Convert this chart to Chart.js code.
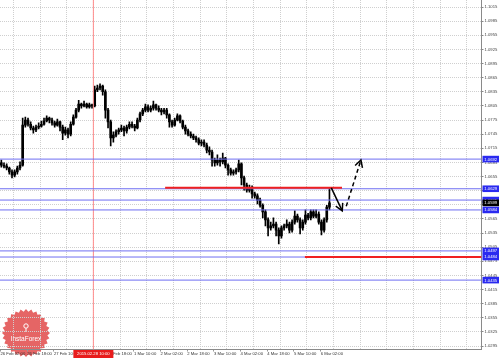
<!DOCTYPE html>
<html><head><meta charset="utf-8">
<script src="https://cdn.jsdelivr.net/npm/chart.js@4.4.0/dist/chart.umd.min.js"></script>
<style>html,body{margin:0;padding:0;background:#fff;}canvas{display:block;}</style>
</head><body>
<canvas id="c" width="499" height="359"></canvas>
<script>
// ---- data ----
const OPEN = [1.0684,1.0679,1.0677,1.0673,1.0665,1.0658,1.0665,1.0673,1.0679,1.0764,1.0775,1.0766,1.0758,1.0754,1.0760,1.0762,1.0766,1.0773,1.0779,1.0775,1.0769,1.0764,1.0771,1.0760,1.0747,1.0754,1.0745,1.0766,1.0781,1.0796,1.0809,1.0805,1.0809,1.0803,1.0807,1.0805,1.0839,1.0843,1.0847,1.0835,1.0796,1.0771,1.0737,1.0743,1.0750,1.0754,1.0758,1.0752,1.0760,1.0766,1.0762,1.0758,1.0775,1.0788,1.0796,1.0803,1.0796,1.0800,1.0807,1.0800,1.0796,1.0792,1.0796,1.0786,1.0771,1.0764,1.0775,1.0784,1.0773,1.0760,1.0752,1.0745,1.0741,1.0737,1.0733,1.0726,1.0728,1.0722,1.0711,1.0707,1.0690,1.0684,1.0690,1.0686,1.0694,1.0679,1.0669,1.0662,1.0665,1.0669,1.0682,1.0652,1.0637,1.0626,1.0631,1.0618,1.0614,1.0605,1.0594,1.0580,1.0563,1.0546,1.0550,1.0554,1.0541,1.0529,1.0546,1.0550,1.0554,1.0541,1.0558,1.0571,1.0563,1.0546,1.0558,1.0573,1.0567,1.0580,1.0571,1.0575,1.0558,1.0541,1.0563,1.0590];
const HIGH = [1.0690,1.0684,1.0682,1.0675,1.0669,1.0669,1.0677,1.0686,1.0779,1.0781,1.0779,1.0771,1.0762,1.0764,1.0769,1.0773,1.0779,1.0784,1.0781,1.0779,1.0773,1.0777,1.0773,1.0764,1.0760,1.0758,1.0771,1.0786,1.0800,1.0817,1.0811,1.0815,1.0811,1.0811,1.0809,1.0847,1.0849,1.0852,1.0849,1.0839,1.0800,1.0775,1.0750,1.0754,1.0758,1.0764,1.0762,1.0764,1.0771,1.0771,1.0766,1.0779,1.0792,1.0800,1.0809,1.0807,1.0805,1.0815,1.0809,1.0805,1.0800,1.0800,1.0800,1.0788,1.0775,1.0779,1.0788,1.0786,1.0775,1.0764,1.0756,1.0750,1.0745,1.0741,1.0737,1.0733,1.0733,1.0726,1.0718,1.0711,1.0694,1.0701,1.0694,1.0705,1.0696,1.0682,1.0673,1.0669,1.0673,1.0690,1.0684,1.0656,1.0641,1.0637,1.0635,1.0622,1.0618,1.0609,1.0597,1.0584,1.0567,1.0558,1.0567,1.0558,1.0546,1.0550,1.0554,1.0563,1.0558,1.0563,1.0582,1.0575,1.0567,1.0563,1.0584,1.0577,1.0584,1.0584,1.0584,1.0580,1.0563,1.0567,1.0594,1.0631];
const LOW = [1.0675,1.0673,1.0669,1.0660,1.0652,1.0654,1.0660,1.0669,1.0677,1.0760,1.0762,1.0754,1.0747,1.0750,1.0756,1.0760,1.0764,1.0771,1.0769,1.0764,1.0760,1.0762,1.0752,1.0733,1.0743,1.0737,1.0741,1.0764,1.0779,1.0792,1.0800,1.0803,1.0800,1.0800,1.0800,1.0803,1.0835,1.0839,1.0828,1.0779,1.0758,1.0720,1.0728,1.0739,1.0745,1.0750,1.0741,1.0747,1.0756,1.0758,1.0752,1.0756,1.0771,1.0784,1.0792,1.0792,1.0792,1.0796,1.0796,1.0792,1.0786,1.0788,1.0779,1.0760,1.0760,1.0762,1.0773,1.0769,1.0756,1.0745,1.0741,1.0737,1.0733,1.0728,1.0722,1.0720,1.0718,1.0705,1.0701,1.0677,1.0677,1.0679,1.0677,1.0682,1.0673,1.0658,1.0658,1.0658,1.0660,1.0665,1.0637,1.0626,1.0622,1.0622,1.0609,1.0609,1.0597,1.0590,1.0567,1.0550,1.0529,1.0541,1.0546,1.0529,1.0512,1.0524,1.0541,1.0546,1.0535,1.0537,1.0554,1.0558,1.0533,1.0541,1.0554,1.0563,1.0563,1.0567,1.0567,1.0554,1.0531,1.0537,1.0558,1.0584];
const CLOSE = [1.0679,1.0677,1.0673,1.0665,1.0658,1.0665,1.0673,1.0679,1.0764,1.0775,1.0766,1.0758,1.0754,1.0760,1.0762,1.0766,1.0773,1.0779,1.0775,1.0769,1.0764,1.0771,1.0760,1.0747,1.0754,1.0745,1.0766,1.0781,1.0796,1.0809,1.0805,1.0809,1.0803,1.0807,1.0805,1.0839,1.0843,1.0847,1.0835,1.0796,1.0771,1.0737,1.0743,1.0750,1.0754,1.0758,1.0752,1.0760,1.0766,1.0762,1.0758,1.0775,1.0788,1.0796,1.0803,1.0796,1.0800,1.0807,1.0800,1.0796,1.0792,1.0796,1.0786,1.0771,1.0764,1.0775,1.0784,1.0773,1.0760,1.0752,1.0745,1.0741,1.0737,1.0733,1.0726,1.0728,1.0722,1.0711,1.0707,1.0690,1.0684,1.0690,1.0686,1.0694,1.0679,1.0669,1.0662,1.0665,1.0669,1.0682,1.0652,1.0637,1.0626,1.0631,1.0618,1.0614,1.0605,1.0594,1.0580,1.0563,1.0546,1.0550,1.0554,1.0541,1.0529,1.0546,1.0550,1.0554,1.0541,1.0558,1.0571,1.0563,1.0546,1.0558,1.0573,1.0567,1.0580,1.0571,1.0575,1.0558,1.0541,1.0563,1.0590,1.0599];

const Y_TICKS = [1.1015,1.0985,1.0955,1.0925,1.0895,1.0865,1.0835,1.0805,1.0775,1.0745,1.0715,1.0685,1.0655,1.0625,1.0595,1.0565,1.0535,1.0505,1.0475,1.0445,1.0415,1.0385,1.0355,1.0325,1.0295];
const X_LABELS = ["26 Feb 02:00","26 Feb 18:00","27 Feb 10:00","28 Feb 02:00","28 Feb 18:00","1 Mar 10:00","2 Mar 02:00","2 Mar 18:00","3 Mar 10:00","4 Mar 02:00","4 Mar 18:00","5 Mar 10:00","6 Mar 02:00"];
const X_LABEL_BARS = [-0.3,9.7,19.7,29.7,39.7,49.7,59.7,69.7,79.7,89.7,99.7,109.7,119.7];
const X_GRID_BARS = [4.5,14.5,24.5,34.5,44.5,54.5,64.5,74.5,84.5,94.5,104.5,114.5,124.5,134.5,144.5,154.5,164.5,174.5];

const BLUE_LEVELS = [1.0692,1.0629,1.0605,1.0584,1.0497,1.0484,1.0435];
const RED_LEVELS = [1.0631,1.0484];
const RED_FROM = [61.4,113.8];
const RED_TO = [127.7,180];
const CURRENT_PRICE = 1.0599;
const VLINE_BAR = 34.5;
const VLINE_LABEL = "2015.02.28 10:00";
const ARROW_DOWN_X = [123.7,127.8], ARROW_DOWN_Y = [1.0631,1.0582];
const ARROW_UP_X = [129.3,134.8], ARROW_UP_Y = [1.0592,1.0690];

const X_MIN = -0.5, X_MAX = 180;
const Y_MIN = 1.02876, Y_MAX = 1.10299;

// ---- datasets ----
const idx = OPEN.map((_, i) => i);
const datasets = [];
datasets.push({type:'bar', data: idx.map(i => ({x:i, y:[LOW[i], HIGH[i]]})), backgroundColor:'#000', barThickness:1, grouped:false, order:20});
datasets.push({type:'bar', data: idx.map(i => ({x:i, y:[OPEN[i], CLOSE[i]]})), backgroundColor:'#000', barThickness:2, grouped:false, order:19});
BLUE_LEVELS.forEach(v => datasets.push({type:'line', data:[{x:X_MIN,y:v},{x:X_MAX,y:v}], borderColor:'#6e6ef2', borderWidth:1, pointRadius:0, order:6}));
RED_LEVELS.forEach((v,k) => datasets.push({type:'line', data:[{x:RED_FROM[k],y:v},{x:RED_TO[k],y:v}], borderColor:'#f02020', borderWidth:2, pointRadius:0, order:4}));
datasets.push({type:'line', data:[{x:VLINE_BAR,y:Y_MIN},{x:VLINE_BAR,y:Y_MAX}], borderColor:'#ff8c8c', borderWidth:1, pointRadius:0, order:7});
datasets.push({type:'line', data:ARROW_DOWN_X.map((x,k)=>({x, y:ARROW_DOWN_Y[k]})), borderColor:'#000', borderWidth:1.5, pointRadius:0, order:2, arrowHead:true});
datasets.push({type:'line', data:ARROW_UP_X.map((x,k)=>({x, y:ARROW_UP_Y[k]})), borderColor:'#000', borderWidth:1.5, borderDash:[4,3], pointRadius:0, order:2, arrowHead:true});

const FONT = {family:'"Liberation Sans", Arial, sans-serif', size:4.2};
const zeroPad = s => { s.paddingLeft = 0; s.paddingRight = 0; s.paddingTop = 0; s.paddingBottom = 0; };

const decor = {
  id:'decor',
  beforeDraw(chart){
    const ctx = chart.ctx;
    const cx = 26, cy = 333, ro = 24, ri = 21.5, n = 28;
    ctx.save();
    ctx.fillStyle = 'rgba(226,84,84,0.9)';
    ctx.beginPath();
    for (let k = 0; k < n*2; k++) {
      const r = k % 2 ? ri : ro, a = Math.PI * k / n;
      const px = cx + r*Math.cos(a), py = cy + r*Math.sin(a);
      k ? ctx.lineTo(px, py) : ctx.moveTo(px, py);
    }
    ctx.closePath(); ctx.fill();
    ctx.fillStyle = '#fff';
    ctx.font = '6.5px "Liberation Sans", Arial, sans-serif';
    ctx.textAlign = 'center'; ctx.textBaseline = 'middle';
    ctx.fillText('InstaForex', cx, cy + 6);
    ctx.strokeStyle = '#fff'; ctx.lineWidth = 1;
    ctx.beginPath(); ctx.arc(cx, cy - 7, 2.2, 0, Math.PI*2); ctx.stroke();
    ctx.beginPath(); ctx.moveTo(cx, cy - 4.8); ctx.lineTo(cx, cy - 1); ctx.stroke();
    ctx.restore();
  },
  afterDatasetsDraw(chart){
    const ctx = chart.ctx;
    chart.data.datasets.forEach((ds, di) => {
      if (!ds.arrowHead) return;
      const pts = chart.getDatasetMeta(di).data;
      const a = pts[pts.length-2], b = pts[pts.length-1];
      const ang = Math.atan2(b.y - a.y, b.x - a.x), L = 8, sp = 0.5;
      ctx.save(); ctx.strokeStyle = '#000'; ctx.lineWidth = 1.5; ctx.setLineDash([]);
      ctx.beginPath();
      ctx.moveTo(b.x - L*Math.cos(ang - sp), b.y - L*Math.sin(ang - sp));
      ctx.lineTo(b.x, b.y);
      ctx.lineTo(b.x - L*Math.cos(ang + sp), b.y - L*Math.sin(ang + sp));
      ctx.stroke(); ctx.restore();
    });
  },
  afterDraw(chart){
    const ctx = chart.ctx, ys = chart.scales.y, xs = chart.scales.x;
    ctx.save();
    ctx.font = '4.2px "Liberation Sans", Arial, sans-serif';
    ctx.textBaseline = 'middle'; ctx.textAlign = 'center';
    const boxX = ys.left + 1, boxW = chart.width - ys.left - 1;
    BLUE_LEVELS.forEach(v => {
      const py = ys.getPixelForValue(v);
      ctx.fillStyle = '#2a2af0'; ctx.fillRect(boxX, py - 3.3, boxW, 6.6);
      ctx.fillStyle = '#fff'; ctx.fillText(v.toFixed(4), boxX + boxW/2, py + 0.3);
    });
    const pc = ys.getPixelForValue(CURRENT_PRICE);
    ctx.fillStyle = '#000'; ctx.fillRect(boxX, pc - 3.3, boxW, 6.6);
    ctx.fillStyle = '#fff'; ctx.fillText(CURRENT_PRICE.toFixed(4), boxX + boxW/2, pc + 0.3);
    const vx = xs.getPixelForValue(VLINE_BAR);
    ctx.fillStyle = '#e81c1c'; ctx.fillRect(vx - 20, xs.top + 0.5, 40, 8);
    ctx.fillStyle = '#fff'; ctx.fillText(VLINE_LABEL, vx, xs.top + 4.6);
    ctx.restore();
  }
};

new Chart(document.getElementById('c'), {
  type:'bar',
  data:{datasets},
  options:{
    responsive:false, animation:false, events:[],
    layout:{padding:0, autoPadding:false},
    plugins:{legend:{display:false}, tooltip:{enabled:false}},
    scales:{
      x:{type:'linear', position:'bottom', min:X_MIN, max:X_MAX, offset:false,
        afterBuildTicks: s => { s.ticks = X_LABEL_BARS.map(v => ({value:v})); },
        afterFit: s => { s.height = 9.5; zeroPad(s); },
        ticks:{autoSkip:false, maxRotation:0, minRotation:0, align:'start', padding:0, color:'#333', font:FONT,
          callback:(v, i) => X_LABELS[i]},
        grid:{offset:false, drawOnChartArea:false, drawTicks:true, tickLength:2, tickColor:'#999'},
        border:{display:true, color:'#8a8a8a', width:1}
      },
      xg:{type:'linear', position:'bottom', min:X_MIN, max:X_MAX, offset:false,
        afterBuildTicks: s => { s.ticks = X_GRID_BARS.map(v => ({value:v})); },
        afterFit: s => { s.height = 0; zeroPad(s); },
        ticks:{display:false},
        grid:{offset:false, color:'#cfcfcf', lineWidth:1, drawTicks:false},
        border:{display:false, dash:[1,1]}
      },
      y:{type:'linear', position:'right', min:Y_MIN, max:Y_MAX, bounds:'data',
        afterBuildTicks: s => { s.ticks = Y_TICKS.map(v => ({value:v})); },
        afterFit: s => { s.width = 17.5; zeroPad(s); },
        ticks:{autoSkip:false, padding:1, color:'#444', font:FONT, callback: v => v.toFixed(4)},
        grid:{color:'#cfcfcf', lineWidth:1, drawTicks:true, tickLength:2, tickColor:'#888'},
        border:{display:true, color:'#8a8a8a', width:1, dash:[1,1]}
      }
    }
  },
  plugins:[decor]
});
</script>
</body></html>
